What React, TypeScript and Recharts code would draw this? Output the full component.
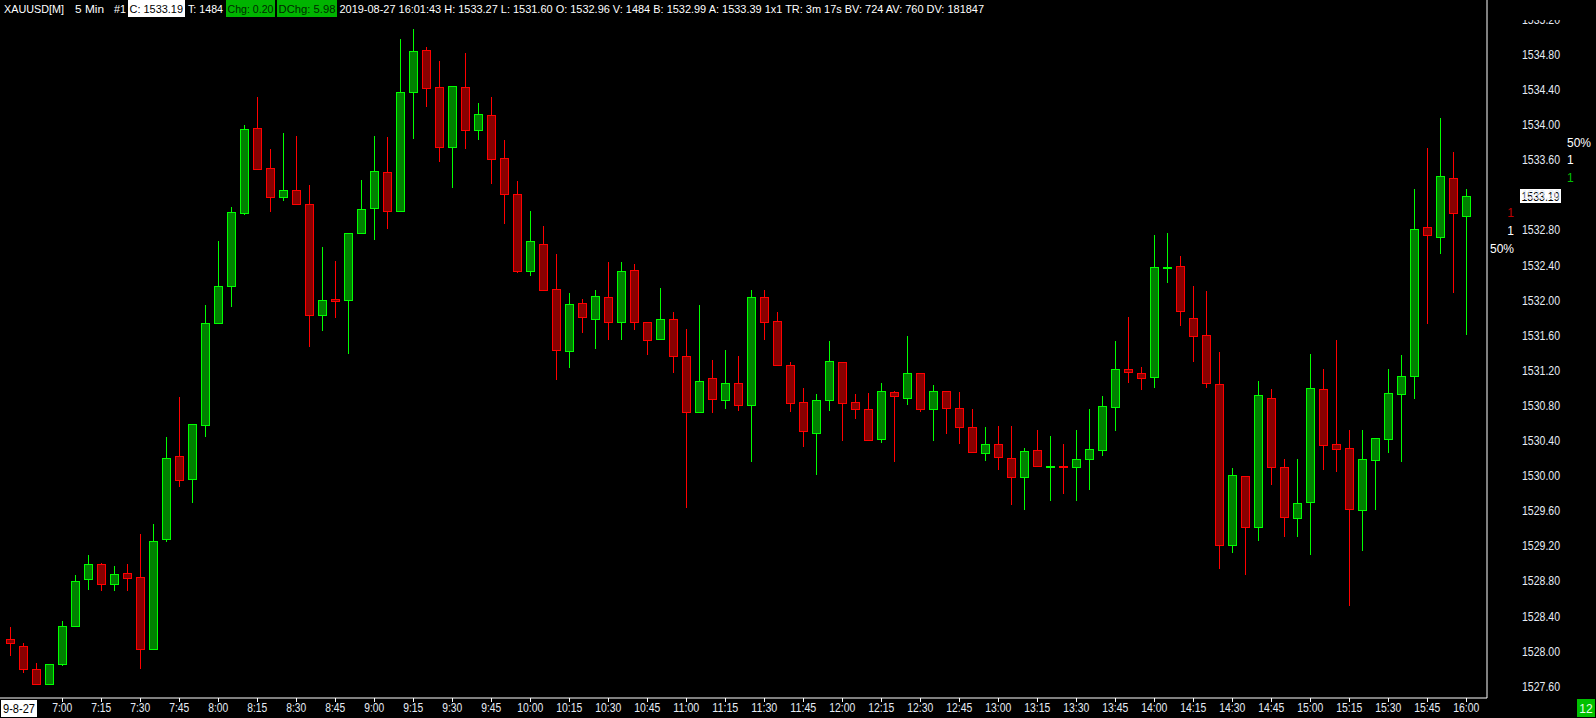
import React from 'react';
import { ComposedChart, Bar, XAxis, YAxis, ReferenceLine } from 'recharts';

document.body.style.margin = '0';
document.body.style.background = '#000';

// 5 minute bars, XAUUSD 2019-08-27
const times = [
  '6:40', '6:45', '6:50', '6:55',
  '7:00', '7:05', '7:10', '7:15', '7:20', '7:25', '7:30', '7:35', '7:40', '7:45', '7:50', '7:55',
  '8:00', '8:05', '8:10', '8:15', '8:20', '8:25', '8:30', '8:35', '8:40', '8:45', '8:50', '8:55',
  '9:00', '9:05', '9:10', '9:15', '9:20', '9:25', '9:30', '9:35', '9:40', '9:45', '9:50', '9:55',
  '10:00', '10:05', '10:10', '10:15', '10:20', '10:25', '10:30', '10:35', '10:40', '10:45', '10:50', '10:55',
  '11:00', '11:05', '11:10', '11:15', '11:20', '11:25', '11:30', '11:35', '11:40', '11:45', '11:50', '11:55',
  '12:00', '12:05', '12:10', '12:15', '12:20', '12:25', '12:30', '12:35', '12:40', '12:45', '12:50', '12:55',
  '13:00', '13:05', '13:10', '13:15', '13:20', '13:25', '13:30', '13:35', '13:40', '13:45', '13:50', '13:55',
  '14:00', '14:05', '14:10', '14:15', '14:20', '14:25', '14:30', '14:35', '14:40', '14:45', '14:50', '14:55',
  '15:00', '15:05', '15:10', '15:15', '15:20', '15:25', '15:30', '15:35', '15:40', '15:45', '15:50', '15:55',
  '16:00',
];

const opens = [
  1528.14, 1528.06, 1527.80, 1527.63,
  1527.85, 1528.29, 1528.82, 1528.99, 1528.76, 1528.89, 1528.84, 1528.03, 1529.28, 1530.22, 1529.96, 1530.58,
  1531.74, 1532.16, 1532.99, 1533.96, 1533.50, 1533.17, 1533.25, 1533.09, 1531.83, 1532.01, 1532.00, 1532.77,
  1533.05, 1533.46, 1533.02, 1534.37, 1534.85, 1534.43, 1533.74, 1534.43, 1533.94, 1534.11, 1533.62, 1533.21,
  1532.33, 1532.64, 1532.13, 1531.42, 1531.97, 1531.79, 1532.04, 1531.75, 1532.34, 1531.75, 1531.56, 1531.79,
  1531.36, 1530.72, 1531.11, 1530.86, 1531.05, 1530.80, 1532.03, 1531.76, 1531.26, 1530.84, 1530.49, 1530.86,
  1531.30, 1530.84, 1530.76, 1530.42, 1530.95, 1530.89, 1531.17, 1530.76, 1530.96, 1530.77, 1530.55, 1530.26,
  1530.36, 1530.20, 1529.99, 1530.29, 1530.10, 1530.11, 1530.10, 1530.19, 1530.29, 1530.78, 1531.21, 1531.17,
  1531.12, 1532.37, 1532.39, 1531.80, 1531.60, 1531.04, 1529.21, 1530.00, 1529.42, 1530.89, 1530.10, 1529.52,
  1529.70, 1530.99, 1530.36, 1530.31, 1529.61, 1530.18, 1530.42, 1530.93, 1531.13, 1532.83, 1532.72, 1533.39,
  1532.96,
];

const highs = [
  1528.28, 1528.09, 1527.87, 1527.85,
  1528.34, 1528.87, 1529.10, 1529.01, 1528.97, 1528.99, 1529.34, 1529.45, 1530.44, 1530.90, 1530.59, 1531.95,
  1532.67, 1533.06, 1533.99, 1534.31, 1533.72, 1533.90, 1533.87, 1533.31, 1532.60, 1532.45, 1532.77, 1533.37,
  1533.87, 1533.86, 1534.98, 1535.09, 1534.88, 1534.72, 1534.44, 1534.82, 1534.25, 1534.32, 1533.82, 1533.36,
  1533.02, 1532.84, 1532.52, 1532.08, 1532.01, 1532.11, 1532.44, 1532.44, 1532.41, 1531.75, 1532.14, 1531.87,
  1531.67, 1531.95, 1531.32, 1531.43, 1531.36, 1532.12, 1532.11, 1531.86, 1531.29, 1531.00, 1530.93, 1531.53,
  1531.30, 1530.93, 1530.94, 1531.05, 1530.96, 1531.59, 1531.17, 1531.03, 1530.96, 1530.95, 1530.76, 1530.55,
  1530.56, 1530.57, 1530.31, 1530.52, 1530.45, 1530.36, 1530.52, 1530.76, 1530.91, 1531.53, 1531.81, 1531.24,
  1532.74, 1532.77, 1532.50, 1532.16, 1532.10, 1531.41, 1530.09, 1530.00, 1531.08, 1530.99, 1530.19, 1530.19,
  1531.39, 1531.22, 1531.55, 1530.52, 1530.52, 1530.43, 1531.22, 1531.37, 1533.27, 1533.73, 1534.07, 1533.69,
  1533.27,
];

const lows = [
  1527.94, 1527.75, 1527.62, 1527.63,
  1527.83, 1528.28, 1528.70, 1528.69, 1528.68, 1528.68, 1527.80, 1528.03, 1529.24, 1529.87, 1529.69, 1530.44,
  1531.74, 1531.92, 1532.97, 1533.49, 1533.00, 1533.13, 1533.09, 1531.47, 1531.65, 1531.80, 1531.39, 1532.77,
  1532.69, 1532.81, 1533.02, 1533.84, 1534.20, 1533.57, 1533.28, 1533.72, 1533.83, 1533.32, 1532.87, 1532.31,
  1532.28, 1532.11, 1531.09, 1531.23, 1531.63, 1531.44, 1531.55, 1531.55, 1531.66, 1531.37, 1531.56, 1531.17,
  1529.63, 1530.72, 1530.71, 1530.76, 1530.74, 1530.15, 1531.54, 1531.26, 1530.73, 1530.33, 1530.01, 1530.74,
  1530.40, 1530.64, 1530.41, 1530.37, 1530.15, 1530.80, 1530.72, 1530.40, 1530.48, 1530.36, 1530.27, 1530.17,
  1530.06, 1529.67, 1529.61, 1530.11, 1529.71, 1529.79, 1529.71, 1529.84, 1530.22, 1530.51, 1531.06, 1530.98,
  1531.00, 1532.19, 1531.70, 1531.30, 1531.00, 1528.94, 1529.12, 1528.87, 1529.26, 1529.89, 1529.30, 1529.30,
  1529.09, 1530.06, 1530.04, 1528.51, 1529.14, 1529.61, 1530.26, 1530.16, 1530.87, 1531.73, 1532.53, 1532.08,
  1531.60,
];

const closes = [
  1528.09, 1527.80, 1527.62, 1527.85,
  1528.29, 1528.80, 1528.99, 1528.76, 1528.88, 1528.83, 1528.03, 1529.26, 1530.20, 1529.95, 1530.59, 1531.74,
  1532.16, 1533.00, 1533.95, 1533.49, 1533.17, 1533.25, 1533.09, 1531.83, 1532.00, 1531.99, 1532.77, 1533.04,
  1533.47, 1533.02, 1534.37, 1534.84, 1534.42, 1533.75, 1534.44, 1533.94, 1534.12, 1533.61, 1533.21, 1532.33,
  1532.67, 1532.11, 1531.43, 1531.96, 1531.81, 1532.05, 1531.75, 1532.33, 1531.75, 1531.55, 1531.79, 1531.36,
  1530.72, 1531.08, 1530.87, 1531.05, 1530.81, 1532.03, 1531.75, 1531.26, 1530.83, 1530.51, 1530.86, 1531.31,
  1530.83, 1530.76, 1530.41, 1530.96, 1530.91, 1531.17, 1530.76, 1530.96, 1530.77, 1530.55, 1530.27, 1530.36,
  1530.21, 1529.99, 1530.28, 1530.11, 1530.11, 1530.10, 1530.19, 1530.30, 1530.79, 1531.22, 1531.18, 1531.11,
  1532.38, 1532.38, 1531.88, 1531.59, 1531.05, 1529.21, 1530.01, 1529.41, 1530.92, 1530.10, 1529.53, 1529.69,
  1531.00, 1530.35, 1530.30, 1529.62, 1530.19, 1530.43, 1530.94, 1531.13, 1532.81, 1532.74, 1533.42, 1532.99,
  1533.19,
];

const timeTicks = [
  '7:00', '7:15', '7:30', '7:45', '8:00', '8:15', '8:30', '8:45', '9:00', '9:15', '9:30', '9:45',
  '10:00', '10:15', '10:30', '10:45', '11:00', '11:15', '11:30', '11:45', '12:00', '12:15', '12:30', '12:45',
  '13:00', '13:15', '13:30', '13:45', '14:00', '14:15', '14:30', '14:45', '15:00', '15:15', '15:30', '15:45',
  '16:00',
];

const priceTicks = [
  1527.6, 1528.0, 1528.4, 1528.8, 1529.2, 1529.6, 1530.0, 1530.4, 1530.8,
  1531.2, 1531.6, 1532.0, 1532.4, 1532.8, 1533.2, 1533.6, 1534.0, 1534.4, 1534.8, 1535.2,
];

const lastPrice = 1533.19;

const data = times.map((t, i) => ({
  time: t,
  open: opens[i],
  high: highs[i],
  low: lows[i],
  close: closes[i],
  range: [lows[i], highs[i]],
}));

const FONT = "'Liberation Sans', Arial, sans-serif";
const W = 1596;
const H = 718;

const Candle = (props: any) => {
  const { x, y, width, height, payload } = props;
  const { open, close, high, low } = payload;
  const up = close >= open;
  const edge = up ? '#00ff00' : '#ff0000';
  const fill = up ? '#008000' : '#880000';
  const top = Math.min(y, y + height);
  const h = Math.abs(height);
  const k = high > low ? h / (high - low) : 0;
  const cx = Math.round(x + width / 2);
  const bTop = Math.round(top + (high - Math.max(open, close)) * k);
  let bBot = Math.round(top + (high - Math.min(open, close)) * k);
  if (bBot - bTop < 1) bBot = bTop + 1;
  return (
    <g>
      <line x1={cx + 0.5} x2={cx + 0.5} y1={Math.round(top)} y2={Math.round(top + h)} stroke={edge} strokeWidth={1} />
      <rect x={cx - 3.5} y={bTop + 0.5} width={8} height={bBot - bTop} fill={fill} stroke={edge} strokeWidth={1} />
    </g>
  );
};

const TimeTick = (props: any) => {
  const { x, y, payload } = props;
  if (!timeTicks.includes(payload.value)) return <g />;
  const px = Math.round(x) + 0.5;
  const len = payload.value.length > 4 ? 26 : 20;
  return (
    <g>
      <line x1={px} x2={px} y1={y - 8} y2={y - 4} stroke="#ffffff" strokeWidth={1} />
      <text x={x} y={y + 6} textAnchor="middle" fill="#e6ecf5" fontSize={12} fontFamily={FONT}
        textLength={len} lengthAdjust="spacingAndGlyphs">
        {payload.value}
      </text>
    </g>
  );
};

const PriceTick = (props: any) => {
  const { y, payload } = props;
  return (
    <text x={1522} y={y} dy={4.5} fill="#e6ecf5" fontSize={12} fontFamily={FONT}
      textLength={38} lengthAdjust="spacingAndGlyphs">
      {Number(payload.value).toFixed(2)}
    </text>
  );
};

const PriceLabel = (props: any) => {
  const vb = props.viewBox || {};
  const yy = Math.round(vb.y);
  const left = vb.x + vb.width + 33;
  return (
    <g>
      <rect x={left} y={yy - 7} width={41} height={14} fill="#ffffff" />
      <text x={left + 1.5} y={yy} dy={4.5} fill="#000000" fontSize={12} fontFamily={FONT}
        textLength={38} lengthAdjust="spacingAndGlyphs">
        {lastPrice.toFixed(2)}
      </text>
    </g>
  );
};

const Header = () => (
  <svg width={W} height={H} style={{ position: 'absolute', left: 0, top: 0, pointerEvents: 'none' }}>
    <rect x={1489} y={0} width={107} height={20} fill="#000" />
    <g fontFamily={FONT} fontSize={11.5}>
      <text x={4} y={13} fill="#ffffff" textLength={60} lengthAdjust="spacingAndGlyphs">XAUUSD[M]</text>
      <text x={75} y={13} fill="#ffffff" textLength={29} lengthAdjust="spacingAndGlyphs">5 Min</text>
      <text x={114} y={13} fill="#ffffff" textLength={12} lengthAdjust="spacingAndGlyphs">#1</text>
      <rect x={128} y={0} width={57} height={17} fill="#ffffff" />
      <text x={129.5} y={13} fill="#000000" textLength={53.5} lengthAdjust="spacingAndGlyphs">C: 1533.19</text>
      <text x={188} y={13} fill="#ffffff" textLength={35} lengthAdjust="spacingAndGlyphs">T: 1484</text>
      <rect x={226} y={0} width={49} height={17} fill="#00b400" />
      <text x={227.5} y={13} fill="#002a00" textLength={46} lengthAdjust="spacingAndGlyphs">Chg: 0.20</text>
      <rect x={277} y={0} width={60} height={17} fill="#00b400" />
      <text x={278.5} y={13} fill="#002a00" textLength={57} lengthAdjust="spacingAndGlyphs">DChg: 5.98</text>
      <text x={339.5} y={13} fill="#ffffff" textLength={644.5} lengthAdjust="spacingAndGlyphs">
        2019-08-27 16:01:43 H: 1533.27 L: 1531.60 O: 1532.96 V: 1484 B: 1532.99 A: 1533.39 1x1 TR: 3m 17s BV: 724 AV: 760 DV: 181847
      </text>
    </g>
    <g fontFamily={FONT} fontSize={12}>
      <text x={1567} y={147} fill="#ffffff">50%</text>
      <text x={1567} y={164} fill="#ffffff">1</text>
      <text x={1567} y={182} fill="#00c000">1</text>
      <text x={1514} y={217} fill="#c00000" textAnchor="end">1</text>
      <text x={1514} y={235} fill="#ffffff" textAnchor="end">1</text>
      <text x={1514} y={253} fill="#ffffff" textAnchor="end">50%</text>

      <rect x={1} y={700} width={36} height={17} fill="#ffffff" />
      <text x={3} y={713} fill="#000000" textLength={32} lengthAdjust="spacingAndGlyphs">9-8-27</text>
      <rect x={1577} y={699} width={18} height={18} fill="#00c000" />
      <text x={1586} y={713} fill="#e8ffe8" textAnchor="middle">12</text>
    </g>
  </svg>
);

const App: React.FC = () => {
  return (
    <div style={{ position: 'relative', width: W, height: H, background: '#000', overflow: 'hidden' }}>
      <ComposedChart width={W} height={H} data={data} margin={{ top: 0, right: 0, bottom: 0, left: 0 }}>
        <XAxis
          dataKey="time"
          height={20}
          interval={0}
          padding={{ left: 3.8, right: 14.2 }}
          axisLine={{ stroke: '#ffffff', strokeWidth: 1 }}
          tickLine={false}
          tick={<TimeTick />}
        />
        <YAxis
          orientation="right"
          type="number"
          width={109}
          domain={[1527.466, 1535.42]}
          allowDataOverflow
          ticks={priceTicks}
          interval={0}
          axisLine={{ stroke: '#ffffff', strokeWidth: 1 }}
          tickLine={false}
          tick={<PriceTick />}
        />
        <Bar dataKey="range" shape={<Candle />} isAnimationActive={false} />
        <ReferenceLine y={lastPrice} stroke="none" label={<PriceLabel />} />
      </ComposedChart>
      <Header />
    </div>
  );
};

export default App;
